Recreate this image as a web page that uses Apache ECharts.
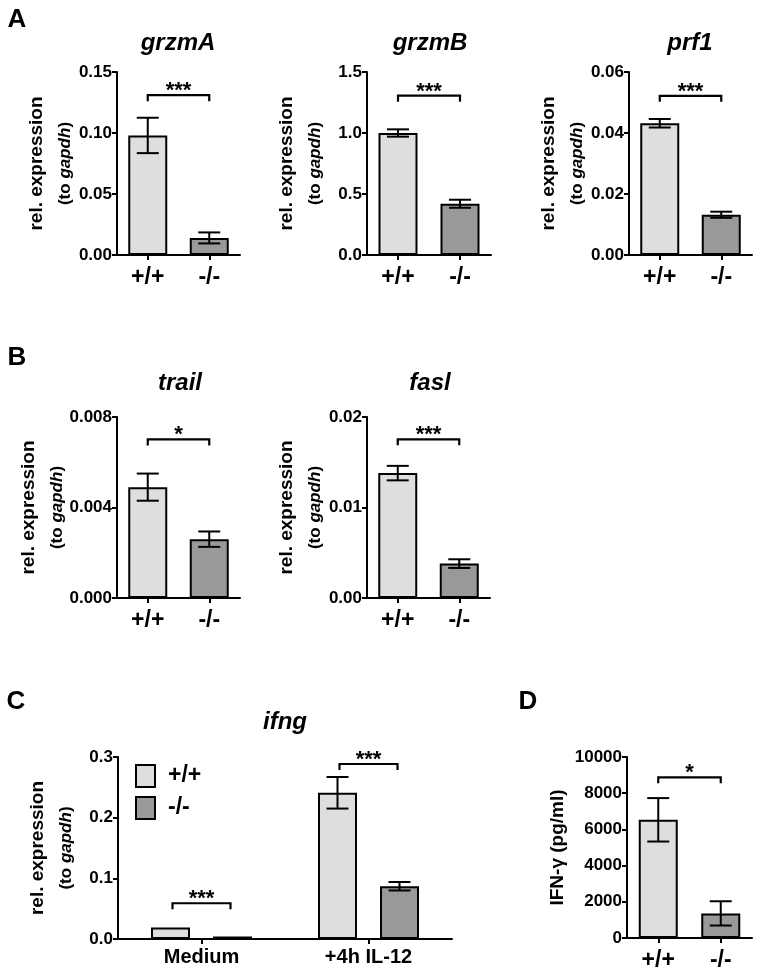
<!DOCTYPE html>
<html>
<head>
<meta charset="utf-8">
<script src="https://cdn.jsdelivr.net/npm/echarts@6/dist/echarts.min.js"></script>
<style>html,body{margin:0;padding:0;background:#fff}#c{width:757px;height:972px}</style>
</head>
<body>
<div id="c"></div>
<script>
// ---------------- DATA ----------------
const genotypes = ['+/+', '-/-'];

const grzmA_mean = [0.098, 0.014];
const grzmA_sem  = [0.0145, 0.0045];
const grzmA_ticks = ['0.00', '0.05', '0.10', '0.15'];
const grzmA_sig = [[0, 1, 0.131, '***']];

const grzmB_mean = [1.00, 0.42];
const grzmB_sem  = [0.03, 0.033];
const grzmB_ticks = ['0.0', '0.5', '1.0', '1.5'];
const grzmB_sig = [[0, 1, 1.306, '***']];

const prf1_mean = [0.0432, 0.0132];
const prf1_sem  = [0.0014, 0.0010];
const prf1_ticks = ['0.00', '0.02', '0.04', '0.06'];
const prf1_sig = [[0, 1, 0.0522, '***']];

const trail_mean = [0.0049, 0.0026];
const trail_sem  = [0.0006, 0.00034];
const trail_ticks = ['0.000', '0.004', '0.008'];
const trail_sig = [[0, 1, 0.00701, '*']];

const fasl_mean = [0.0138, 0.0038];
const fasl_sem  = [0.0008, 0.00048];
const fasl_ticks = ['0.00', '0.01', '0.02'];
const fasl_sig = [[0, 1, 0.01753, '***']];

const ifng_conditions = ['Medium', '+4h IL-12'];
const ifng_wt_mean = [0.019, 0.241];
const ifng_wt_sem  = [0, 0.026];
const ifng_ko_mean = [0.004, 0.087];
const ifng_ko_sem  = [0, 0.007];
const ifng_ticks = ['0.0', '0.1', '0.2', '0.3'];
const ifng_sig = [[0, 0.0589, '***'], [1, 0.2885, '***']];

const ifnD_mean = [6530, 1360];
const ifnD_sem  = [1200, 670];
const ifnD_ticks = ['0', '2000', '4000', '6000', '8000', '10000'];
const ifnD_sig = [[0, 1, 8879, '*']];

// ---------------- STYLE / LAYOUT ----------------
const FONT = '"Liberation Sans", Arial, Helvetica, sans-serif';
const LIGHT = '#dedede';
const DARK = '#999999';
const BAR_W = 39;
const C_OFFSET = 31;  // px half distance between grouped bar centres in panel C
const C_BRACKET = 29;

const relName = '{b|rel. expression}\n{r|(to }{i|gapdh}{r|)}';
const relRich = {
  b: {fontSize: 19, fontWeight: 'bold', fontFamily: FONT, color: '#000', lineHeight: 28},
  r: {fontSize: 17, fontWeight: 'bold', fontFamily: FONT, color: '#000', lineHeight: 28},
  i: {fontSize: 17, fontWeight: 'bold', fontStyle: 'italic', fontFamily: FONT, color: '#000', lineHeight: 28}
};

const panels = [
  {name: 'grzmA', mean: grzmA_mean, sem: grzmA_sem, ticks: grzmA_ticks, sig: grzmA_sig,
   grid: {left: 117, top: 72, width: 123, height: 183}, title: [178, 43]},
  {name: 'grzmB', mean: grzmB_mean, sem: grzmB_sem, ticks: grzmB_ticks, sig: grzmB_sig,
   grid: {left: 367, top: 72, width: 124, height: 183}, title: [430, 43]},
  {name: 'prf1', mean: prf1_mean, sem: prf1_sem, ticks: prf1_ticks, sig: prf1_sig,
   grid: {left: 629, top: 72, width: 123, height: 183}, title: [690, 43]},
  {name: 'trail', mean: trail_mean, sem: trail_sem, ticks: trail_ticks, sig: trail_sig,
   grid: {left: 117, top: 417, width: 123, height: 181}, title: [180, 383]},
  {name: 'fasl', mean: fasl_mean, sem: fasl_sem, ticks: fasl_ticks, sig: fasl_sig,
   grid: {left: 367, top: 417, width: 123, height: 181}, title: [430, 383]},
  {name: 'IFN', mean: ifnD_mean, sem: ifnD_sem, ticks: ifnD_ticks, sig: ifnD_sig,
   grid: {left: 627, top: 757, width: 125, height: 182}, title: null, yName: 'IFN-γ (pg/ml)'}
];

const grids = [], xAxes = [], yAxes = [], series = [];

function yAxisFor(ticks, idx, nameCfg) {
  const max = parseFloat(ticks[ticks.length - 1]);
  const interval = max / (ticks.length - 1);
  const ax = {
    type: 'value', gridIndex: idx, min: 0, max: max, interval: interval,
    axisLine: {show: true, lineStyle: {color: '#000', width: 2}},
    axisTick: {show: true, length: 5, lineStyle: {color: '#000', width: 2}},
    splitLine: {show: false},
    axisLabel: {color: '#000', fontSize: 17, fontWeight: 'bold', fontFamily: FONT, margin: 5,
      formatter: v => ticks[Math.round(v / interval)]}
  };
  Object.assign(ax, nameCfg);
  return ax;
}
function xAxisFor(cats, idx, fs, margin) {
  return {
    type: 'category', gridIndex: idx, data: cats,
    axisLine: {show: true, lineStyle: {color: '#000', width: 2}},
    axisTick: {show: true, alignWithLabel: true, length: 5, lineStyle: {color: '#000', width: 2}},
    axisLabel: {color: '#000', fontSize: fs, fontWeight: 'bold', fontFamily: FONT, margin: margin, interval: 0}
  };
}

function errRender(offsetPx) {
  return function (params, api) {
    const lo = api.value(1), hi = api.value(2);
    if (hi === lo) return null;
    const pl = api.coord([api.value(0), lo]);
    const ph = api.coord([api.value(0), hi]);
    const x = pl[0] + api.value(3) * offsetPx;
    const cap = 11;
    const st = {stroke: '#000', lineWidth: 2};
    return {type: 'group', children: [
      {type: 'line', shape: {x1: x, y1: pl[1], x2: x, y2: ph[1]}, style: st},
      {type: 'line', shape: {x1: x - cap, y1: ph[1], x2: x + cap, y2: ph[1]}, style: st},
      {type: 'line', shape: {x1: x - cap, y1: pl[1], x2: x + cap, y2: pl[1]}, style: st}
    ]};
  };
}
function bracketShape(x1, x2, y, label) {
  const leg = 6;
  return {type: 'group', children: [
    {type: 'polyline', shape: {points: [[x1, y + leg], [x1, y], [x2, y], [x2, y + leg]]},
     style: {stroke: '#000', lineWidth: 2.2, fill: null}},
    {type: 'text', x: (x1 + x2) / 2, y: y - 4,
     style: {text: label, align: 'center', verticalAlign: 'middle', font: 'bold 22px ' + FONT, fill: '#000'}}
  ]};
}

panels.forEach((p, idx) => {
  grids.push(Object.assign({containLabel: false}, p.grid));
  xAxes.push(xAxisFor(genotypes, idx, 23, 11));
  const nameCfg = p.yName
    ? {name: p.yName, nameLocation: 'middle', nameRotate: 90, nameGap: 60,
       nameTextStyle: {fontSize: 19, fontWeight: 'bold', fontFamily: FONT, color: '#000'}}
    : {name: relName, nameLocation: 'middle', nameRotate: 90, nameGap: 38,
       nameTextStyle: {rich: relRich}};
  yAxes.push(yAxisFor(p.ticks, idx, nameCfg));
  series.push({
    name: p.name, type: 'bar', xAxisIndex: idx, yAxisIndex: idx, barWidth: BAR_W,
    data: p.mean.map((v, i) => ({value: v, itemStyle: {color: i === 0 ? LIGHT : DARK}})),
    itemStyle: {borderColor: '#000', borderWidth: 2}, z: 2
  });
  series.push({
    type: 'custom', xAxisIndex: idx, yAxisIndex: idx, z: 5,
    renderItem: errRender(0),
    data: p.mean.map((m, i) => [i, m - p.sem[i], m + p.sem[i], 0])
  });
  const sig = p.sig;
  series.push({
    type: 'custom', xAxisIndex: idx, yAxisIndex: idx, z: 5,
    renderItem: function (params, api) {
      const s = sig[params.dataIndex];
      const a = api.coord([s[0], s[2]]), b = api.coord([s[1], s[2]]);
      return bracketShape(a[0], b[0], a[1], s[3]);
    },
    data: sig.map(s => [s[0], s[2]])
  });
});

// Panel C (grouped)
const cIdx = grids.length;
grids.push({left: 118, top: 757, width: 334, height: 182, containLabel: false});
xAxes.push(xAxisFor(ifng_conditions, cIdx, 20, 8));
yAxes.push(yAxisFor(ifng_ticks, cIdx, {name: relName, nameLocation: 'middle', nameRotate: 90, nameGap: 38,
  nameTextStyle: {rich: relRich}}));
series.push({name: '+/+', type: 'bar', xAxisIndex: cIdx, yAxisIndex: cIdx, barWidth: BAR_W, barGap: '59%',
  data: ifng_wt_mean, itemStyle: {color: LIGHT, borderColor: '#000', borderWidth: 2}, z: 2});
series.push({name: '-/-', type: 'bar', xAxisIndex: cIdx, yAxisIndex: cIdx, barWidth: BAR_W, barGap: '59%',
  data: ifng_ko_mean, itemStyle: {color: DARK, borderColor: '#000', borderWidth: 2}, z: 2});
series.push({type: 'custom', xAxisIndex: cIdx, yAxisIndex: cIdx, z: 5, renderItem: errRender(C_OFFSET),
  data: ifng_wt_mean.map((m, i) => [i, m - ifng_wt_sem[i], m + ifng_wt_sem[i], -1])
    .concat(ifng_ko_mean.map((m, i) => [i, m - ifng_ko_sem[i], m + ifng_ko_sem[i], 1]))});
series.push({type: 'custom', xAxisIndex: cIdx, yAxisIndex: cIdx, z: 5,
  renderItem: function (params, api) {
    const s = ifng_sig[params.dataIndex];
    const c = api.coord([s[0], s[1]]);
    return bracketShape(c[0] - C_BRACKET, c[0] + C_BRACKET, c[1], s[2]);
  },
  data: ifng_sig.map(s => [s[0], s[1]])});

// Titles and panel letters
const graphic = [];
function txt(x, y, text, font) {
  graphic.push({type: 'text', x: x, y: y, z: 10,
    style: {text: text, align: 'center', verticalAlign: 'middle', font: font, fill: '#000'}});
}
panels.forEach(p => { if (p.title) txt(p.title[0], p.title[1], p.name, 'italic bold 24px ' + FONT); });
txt(285, 722, 'ifng', 'italic bold 24px ' + FONT);
txt(17, 20, 'A', 'bold 26px ' + FONT);
txt(17, 358, 'B', 'bold 26px ' + FONT);
txt(16, 702, 'C', 'bold 26px ' + FONT);
txt(528, 702, 'D', 'bold 26px ' + FONT);

const chart = echarts.init(document.getElementById('c'), null, {renderer: 'canvas'});
chart.setOption({
  animation: false,
  backgroundColor: '#fff',
  textStyle: {fontFamily: FONT},
  grid: grids, xAxis: xAxes, yAxis: yAxes, series: series, graphic: graphic,
  legend: {data: ['+/+', '-/-'], orient: 'vertical', left: 130, top: 759, itemWidth: 19, itemHeight: 22,
    itemGap: 8, icon: 'rect', selectedMode: false,
    textStyle: {fontSize: 23, fontWeight: 'bold', color: '#000', fontFamily: FONT, padding: [0, 0, 0, 8]}}
});
</script>
</body>
</html>
